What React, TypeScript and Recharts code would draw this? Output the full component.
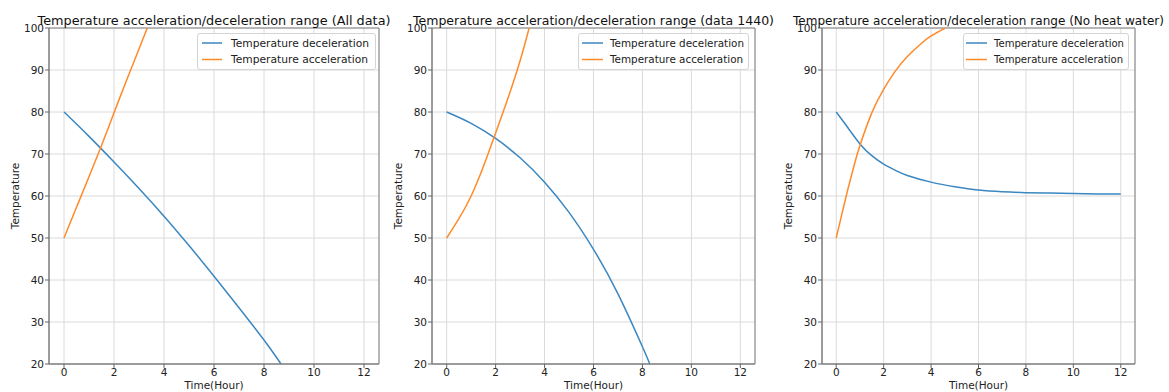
import { LineChart, Line, XAxis, YAxis, CartesianGrid, Legend, ReferenceArea } from 'recharts';

const FONT = '"DejaVu Sans", sans-serif';
const BLUE = '#3a87c2';
const ORANGE = '#ff8a2a';

const xTicks = [0, 2, 4, 6, 8, 10, 12];
const yTicks = [20, 30, 40, 50, 60, 70, 80, 90, 100];
const seriesNames = ['Temperature deceleration', 'Temperature acceleration'];

// All data
const allDecelHours = [0, 1, 2, 3, 4, 5, 6, 7, 8, 8.68];
const allDecelTemp = [80, 74.2, 68.1, 61.8, 55.2, 48.2, 40.9, 33.4, 25.7, 20];
const allAccelHours = [0, 0.5, 1, 1.5, 2, 2.5, 3, 3.35];
const allAccelTemp = [50, 57.3, 64.6, 72, 79.8, 87.5, 95, 100.3];

// data 1440
const d1440DecelHours = [0, 1, 2, 3, 4, 5, 6, 7, 8, 8.3];
const d1440DecelTemp = [80, 77.3, 73.7, 69.1, 63.3, 56.1, 47.3, 36.7, 24.1, 20];
const d1440AccelHours = [0, 0.5, 1, 1.5, 2, 2.5, 3, 3.37];
const d1440AccelTemp = [50, 54.6, 60, 67, 75, 83.2, 92.2, 100];

// No heat water
const noHeatDecelHours = [0, 0.5, 1, 1.5, 2, 2.5, 3, 4, 5, 6, 7, 8, 9, 10, 11, 12];
const noHeatDecelTemp = [80, 76.2, 72.4, 69.6, 67.6, 66.1, 64.9, 63.3, 62.2, 61.4, 61, 60.8, 60.7, 60.6, 60.5, 60.5];
const noHeatAccelHours = [0, 0.25, 0.5, 0.75, 1, 1.5, 2, 2.5, 3, 3.5, 4, 4.6];
const noHeatAccelTemp = [50, 56, 61.8, 67.2, 72, 79.8, 85.4, 89.8, 93.2, 95.9, 98.1, 100];

function toPoints(hours: number[], temps: number[]) {
  return hours.map((hour, i) => ({ hour, temp: temps[i] }));
}

interface PanelProps {
  left: number;
  width: number;
  axisWidth: number;
  right: number;
  title: string;
  titleLen: number;
  legendLeft: number;
  legendWidth: number;
  legendSample: [number, number];
  legendTextX: number;
  legendTextLen: number;
  decel: { hour: number; temp: number }[];
  accel: { hour: number; temp: number }[];
}

function Panel(p: PanelProps) {
  const plotRight = p.width - p.right;
  const plotCenter = (p.axisWidth + plotRight) / 2;

  const renderLegend = () => (
    <div
      style={{
        width: p.legendWidth,
        height: 37,
        boxSizing: 'border-box',
        background: 'rgba(255,255,255,0.8)',
        border: '1px solid #d4d4d4',
        borderRadius: 3,
      }}
    >
      <svg width={p.legendWidth - 2} height={35} style={{ display: 'block' }}>
        {[BLUE, ORANGE].map((c, i) => (
          <g key={c}>
            <line x1={p.legendSample[0]} x2={p.legendSample[1]} y1={9 + i * 16.5} y2={9 + i * 16.5} stroke={c} strokeWidth={1.5} />
            <text
              x={p.legendTextX}
              y={12.8 + i * 16.5}
              fontSize={10.5}
              fontFamily={FONT}
              fill="#222"
              textLength={i === 0 ? p.legendTextLen : p.legendTextLen * 0.993}
              lengthAdjust="spacingAndGlyphs"
            >
              {seriesNames[i]}
            </text>
          </g>
        ))}
      </svg>
    </div>
  );

  return (
    <div style={{ position: 'absolute', left: p.left, top: 0, width: p.width, height: 392 }}>
      <LineChart width={p.width} height={392} margin={{ top: 28, right: p.right, bottom: 0, left: 0 }}>
        <CartesianGrid stroke="#dadada" strokeWidth={1} />
        <XAxis
          dataKey="hour"
          type="number"
          domain={[-0.6, 12.6]}
          ticks={xTicks}
          allowDataOverflow
          height={28}
          tickSize={4}
          tickMargin={1}
          tick={{ fontSize: 10.5, fill: '#222', fontFamily: FONT }}
          axisLine={{ stroke: '#808080' }}
          tickLine={{ stroke: '#666' }}
          label={() => (
            <text x={plotCenter} y={389} textAnchor="middle" fontSize={10.5} fontFamily={FONT} fill="#222">
              Time(Hour)
            </text>
          )}
        />
        <YAxis
          type="number"
          domain={[20, 100]}
          ticks={yTicks}
          allowDataOverflow
          width={p.axisWidth}
          tickSize={4}
          tickMargin={1}
          tick={{ fontSize: 10.5, fill: '#222', fontFamily: FONT }}
          axisLine={{ stroke: '#808080' }}
          tickLine={{ stroke: '#666' }}
          label={() => (
            <text
              x={p.axisWidth - 30}
              y={196}
              transform={`rotate(-90, ${p.axisWidth - 30}, 196)`}
              textAnchor="middle"
              fontSize={10.5}
              fontFamily={FONT}
              fill="#222"
            >
              Temperature
            </text>
          )}
        />
        <ReferenceArea x1={-0.6} x2={12.6} y1={20} y2={100} fill="none" stroke="#808080" strokeWidth={1} />
        <Line
          data={p.decel}
          dataKey="temp"
          name={seriesNames[0]}
          type="natural"
          stroke={BLUE}
          strokeWidth={1.5}
          dot={false}
          isAnimationActive={false}
        />
        <Line
          data={p.accel}
          dataKey="temp"
          name={seriesNames[1]}
          type="natural"
          stroke={ORANGE}
          strokeWidth={1.5}
          dot={false}
          isAnimationActive={false}
        />
        <Legend
          layout="horizontal"
          align="center"
          verticalAlign="middle"
          content={renderLegend}
          wrapperStyle={{ left: p.legendLeft, top: 33, width: p.legendWidth, height: 37 }}
        />
      </LineChart>
      <svg
        width={p.width + 20}
        height={28}
        style={{ position: 'absolute', left: -10, top: 0, overflow: 'visible', pointerEvents: 'none' }}
      >
        <text
          x={plotCenter + 10}
          y={24.5}
          textAnchor="middle"
          fontSize={13}
          fontFamily={FONT}
          fill="#111"
          textLength={p.titleLen}
          lengthAdjust="spacingAndGlyphs"
        >
          {p.title}
        </text>
      </svg>
    </div>
  );
}

export default function App() {
  return (
    <div
      style={{
        position: 'absolute',
        left: 0,
        top: 0,
        width: 1169,
        height: 392,
        background: '#fff',
        overflow: 'hidden',
        fontFamily: FONT,
      }}
    >
      <Panel
        left={0}
        width={390}
        axisWidth={49}
        right={11}
        title="Temperature acceleration/deceleration range (All data)"
        titleLen={353}
        legendLeft={197}
        legendWidth={179}
        legendSample={[4, 24]}
        legendTextX={33}
        legendTextLen={138}
        decel={toPoints(allDecelHours, allDecelTemp)}
        accel={toPoints(allAccelHours, allAccelTemp)}
      />
      <Panel
        left={390}
        width={390}
        axisWidth={42}
        right={25}
        title="Temperature acceleration/deceleration range (data 1440)"
        titleLen={361}
        legendLeft={188}
        legendWidth={171}
        legendSample={[3, 24]}
        legendTextX={31}
        legendTextLen={134}
        decel={toPoints(d1440DecelHours, d1440DecelTemp)}
        accel={toPoints(d1440AccelHours, d1440AccelTemp)}
      />
      <Panel
        left={780}
        width={389}
        axisWidth={42}
        right={34}
        title="Temperature acceleration/deceleration range (No heat water)"
        titleLen={371}
        legendLeft={183}
        legendWidth={166}
        legendSample={[2, 23]}
        legendTextX={30}
        legendTextLen={130}
        decel={toPoints(noHeatDecelHours, noHeatDecelTemp)}
        accel={toPoints(noHeatAccelHours, noHeatAccelTemp)}
      />
    </div>
  );
}
